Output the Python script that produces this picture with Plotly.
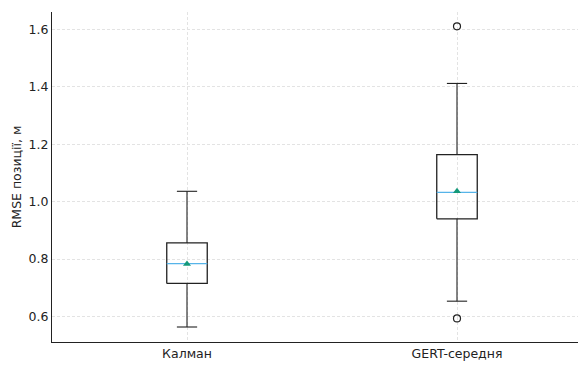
import plotly.graph_objects as go

categories = ["Калман", "GERT-середня"]
positions = [1, 2]
q1 = [0.715, 0.940]
median = [0.784, 1.032]
q3 = [0.856, 1.164]
whisker_low = [0.563, 0.653]
whisker_high = [1.036, 1.412]
means = [0.783, 1.036]
outliers = [[], [1.611, 0.593]]
y_ticks = [0.6, 0.8, 1.0, 1.2, 1.4, 1.6]

BOX_W = 0.15
CAP_W = 0.075
LINE_C = "#222222"
MED_C = "#56B4E9"
MEAN_C = "#14997a"

fig = go.Figure()
for i, p in enumerate(positions):
    h = BOX_W / 2
    c = CAP_W / 2
    fig.add_trace(go.Scatter(x=[p, p, None, p, p], y=[q1[i], whisker_low[i], None, q3[i], whisker_high[i]],
                             mode="lines", line=dict(color=LINE_C, width=1.1), hoverinfo="skip", showlegend=False))
    fig.add_trace(go.Scatter(x=[p - c, p + c, None, p - c, p + c],
                             y=[whisker_low[i], whisker_low[i], None, whisker_high[i], whisker_high[i]],
                             mode="lines", line=dict(color=LINE_C, width=1.1), hoverinfo="skip", showlegend=False))
    fig.add_trace(go.Scatter(x=[p - h, p + h, p + h, p - h, p - h],
                             y=[q1[i], q1[i], q3[i], q3[i], q1[i]],
                             mode="lines", fill="toself", fillcolor="rgba(255,255,255,0)",
                             line=dict(color=LINE_C, width=1.3), hoverinfo="skip", showlegend=False))
    fig.add_trace(go.Scatter(x=[p - h, p + h], y=[median[i], median[i]], mode="lines",
                             line=dict(color=MED_C, width=1.3), hoverinfo="skip", showlegend=False))
    fig.add_trace(go.Scatter(x=[p], y=[means[i]], mode="markers",
                             marker=dict(symbol="triangle-up", size=7, color=MEAN_C), showlegend=False))
    if outliers[i]:
        fig.add_trace(go.Scatter(x=[p] * len(outliers[i]), y=outliers[i], mode="markers",
                                 marker=dict(symbol="circle-open", size=7, color="#222222", line=dict(width=1.2)),
                                 showlegend=False))

# page body has an 8px default margin; the figure is sized/offset to compensate
fig.update_layout(
    width=586, height=357,
    margin=dict(l=44, r=0, t=4, b=23),
    plot_bgcolor="white", paper_bgcolor="white",
    font=dict(family="DejaVu Sans", size=12.5, color="#222222"),
    showlegend=False,
)
fig.update_xaxes(
    range=[0.5, 0.5 + 542 / 270], tickvals=positions, ticktext=categories,
    showgrid=True, gridcolor="#e3e3e3", griddash="3px,2px", gridwidth=0.8,
    showline=True, linecolor="#222222", linewidth=1, ticks="", zeroline=False,
    tickfont=dict(size=12.5), automargin=False,
)
fig.update_yaxes(
    range=[0.5107, 1.661], tickvals=y_ticks, ticktext=[f"{v:.1f}" for v in y_ticks],
    showgrid=True, gridcolor="#e3e3e3", griddash="3px,2px", gridwidth=0.8,
    showline=True, linecolor="#222222", linewidth=1, ticks="", zeroline=False,
    title=dict(text="RMSE позиції, м", font=dict(size=12.5), standoff=4),
    tickfont=dict(size=12.5), automargin=False,
)

fig.write_html("out.html")
